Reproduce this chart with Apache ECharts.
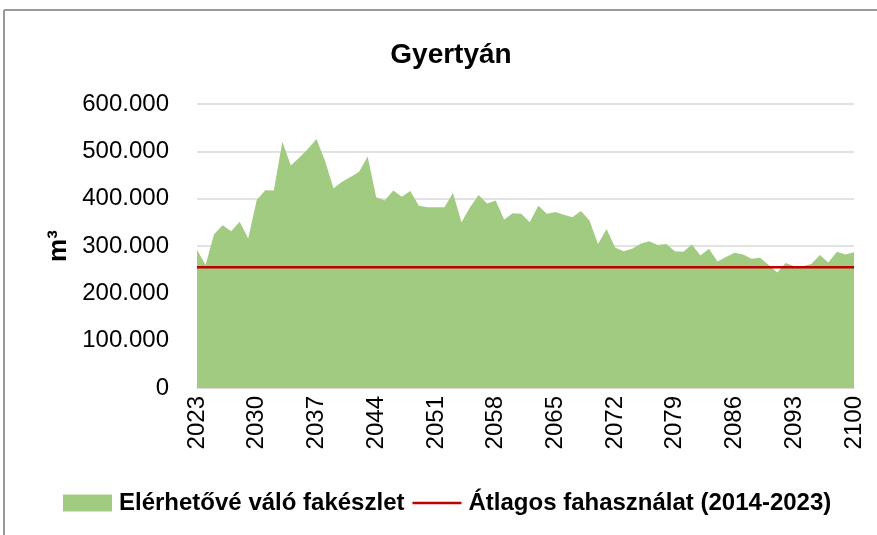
<!DOCTYPE html>
<html>
<head>
<meta charset="utf-8">
<script src="https://cdn.jsdelivr.net/npm/echarts@6/dist/echarts.min.js"></script>
<style>html,body{margin:0;padding:0;background:#fff}#c{width:877px;height:535px}</style>
</head>
<body>
<div id="c"></div>
<script>
const years = [];
for (let y = 2023; y <= 2100; y++) years.push(String(y));

const available = [
  292000, 260000, 325000, 344000, 331000, 351000, 316000, 397000, 418000, 417000,
  520000, 470000, 487000, 505000, 526000, 480000, 422000, 436000, 446000, 457000,
  489000, 403000, 396000, 417000, 404000, 416000, 385000, 382000, 382000, 382000,
  412000, 350000, 382000, 408000, 390000, 396000, 356000, 369000, 368000, 350000,
  385000, 368000, 372000, 366000, 361000, 374000, 354000, 304000, 336000, 297000,
  289000, 294000, 305000, 310000, 302000, 304000, 289000, 288000, 303000, 280000,
  294000, 267000, 277000, 286000, 282000, 273000, 275000, 260000, 244000, 264000,
  257000, 257000, 262000, 281000, 265000, 288000, 282000, 287000
];
const avgUse = 255000;
const avgLine = years.map(() => avgUse);

const yTicks = { min: 0, max: 600000, interval: 100000 };

function fmt(v) {
  return String(v).replace(/\B(?=(\d{3})+(?!\d))/g, '.');
}

const chart = echarts.init(document.getElementById('c'));
const font = 'Liberation Sans, Arial, sans-serif';
chart.setOption({
  animation: false,
  title: {
    text: 'Gyertyán', left: 446, textAlign: 'center', top: 36,
    textStyle: { fontFamily: font, fontSize: 28, fontWeight: 'bold', color: '#000' }
  },
  graphic: [
    { type: 'line', shape: { x1: 4, y1: 10, x2: 877, y2: 10 }, style: { stroke: '#9a9a9a', lineWidth: 2 } },
    { type: 'line', shape: { x1: 4, y1: 10, x2: 4, y2: 535 }, style: { stroke: '#9a9a9a', lineWidth: 2 } }
  ],
  grid: { left: 197, right: 23, top: 104, bottom: 147 },
  legend: {
    left: 58, top: 486, itemWidth: 49, itemHeight: 17, itemGap: 8,
    textStyle: { fontFamily: font, fontSize: 24, fontWeight: 'bold', color: '#000', padding: [0, 0, 0, 2] },
    data: [
      { name: 'Elérhetővé váló fakészlet', icon: 'rect', itemStyle: { color: '#A1CB81' } },
      { name: 'Átlagos fahasználat (2014-2023)', icon: 'path://M0,0H196V10H0Z', itemStyle: { color: '#C00000' } }
    ]
  },
  xAxis: {
    type: 'category', data: years, boundaryGap: false,
    axisLine: { lineStyle: { color: '#d9d9d9', width: 1.5 } },
    axisTick: { show: false },
    axisLabel: { rotate: 90, interval: 6, margin: 8, fontFamily: font, fontSize: 24, color: '#000' }
  },
  yAxis: {
    type: 'value', min: yTicks.min, max: yTicks.max, interval: yTicks.interval,
    name: 'm³', nameLocation: 'middle', nameRotate: 90, nameGap: 123,
    nameTextStyle: { fontFamily: font, fontSize: 26, fontWeight: 'bold', color: '#000' },
    axisLine: { show: false }, axisTick: { show: false },
    splitLine: { lineStyle: { color: '#d9d9d9', width: 1.5 } },
    axisLabel: { formatter: fmt, margin: 28, fontFamily: font, fontSize: 24, color: '#000' }
  },
  series: [
    {
      name: 'Elérhetővé váló fakészlet', type: 'line', data: available,
      symbol: 'none', lineStyle: { width: 0 }, itemStyle: { color: '#A1CB81' },
      areaStyle: { color: '#A1CB81', opacity: 1 }
    },
    {
      name: 'Átlagos fahasználat (2014-2023)', type: 'line', data: avgLine,
      symbol: 'none', lineStyle: { color: '#C00000', width: 2.5 }, itemStyle: { color: '#C00000' }
    }
  ]
});
</script>
</body>
</html>
